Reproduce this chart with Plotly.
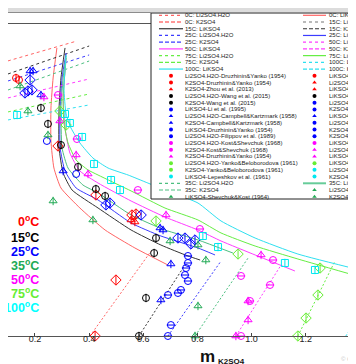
import plotly.graph_objects as go

# ---------------- axis ----------------
X_TICKS = [0.2, 0.4, 0.6, 0.8, 1.0, 1.2, 1.4]
X_TICK_TEXT = ["0.2", "0.4", "0.6", "0.8", "1.0", "1.2", "1.4"]
X_RANGE = [0.1004, 1.4151]
Y_RANGE = [0.0, 3.7]
X_TITLE_MAIN = "m"
X_TITLE_SUB = "K2SO4"
TEMP_LABELS = ["0", "15", "25", "35", "50", "75", "100"]

# ---------------- LiKSO4 saturation curves (solid) ----------------
LIKSO4_0C_X = [0.281, 0.267, 0.259, 0.259, 0.270, 0.296, 0.366, 0.459, 0.569, 0.691]
LIKSO4_0C_Y = [3.416, 3.060, 2.704, 2.313, 1.992, 1.755, 1.518, 1.257, 1.044, 0.842]
LIKSO4_15C_X = [0.311, 0.296, 0.289, 0.289, 0.304, 0.337, 0.433, 0.555, 0.665, 0.765, 0.810]
LIKSO4_15C_Y = [3.416, 3.060, 2.704, 2.230, 1.933, 1.731, 1.518, 1.257, 1.079, 0.949, 0.901]
LIKSO4_25C_X = [0.315, 0.300, 0.293, 0.293, 0.311, 0.352, 0.433, 0.555, 0.665, 0.802, 0.865]
LIKSO4_25C_Y = [3.356, 3.060, 2.704, 2.230, 1.957, 1.755, 1.613, 1.340, 1.186, 1.044, 0.961]
LIKSO4_35C_X = [0.315, 0.304, 0.296, 0.300, 0.322, 0.377, 0.433, 0.555, 0.680, 0.802, 0.931]
LIKSO4_35C_Y = [3.321, 3.060, 2.704, 2.230, 1.992, 1.791, 1.696, 1.435, 1.257, 1.139, 0.984]
LIKSO4_50C_X = [0.315, 0.304, 0.311, 0.329, 0.366, 0.433, 0.555, 0.680, 0.802, 0.887, 1.013, 1.160]
LIKSO4_50C_Y = [3.297, 2.823, 2.467, 2.170, 1.957, 1.814, 1.601, 1.411, 1.257, 1.127, 0.961, 0.771]
LIKSO4_75C_X = [0.315, 0.304, 0.307, 0.322, 0.352, 0.396, 0.433, 0.555, 0.680, 0.802, 0.887, 1.013, 1.171, 1.415]
LIKSO4_75C_Y = [3.297, 2.823, 2.526, 2.289, 2.087, 1.969, 1.909, 1.720, 1.518, 1.376, 1.222, 1.067, 0.913, 0.688]
LIKSO4_100C_X = [0.315, 0.307, 0.315, 0.333, 0.366, 0.414, 0.470, 0.544, 0.617, 0.710, 0.802, 0.887, 1.013, 1.171, 1.415]
LIKSO4_100C_Y = [3.333, 2.941, 2.633, 2.467, 2.289, 2.111, 1.992, 1.909, 1.814, 1.696, 1.577, 1.364, 1.162, 0.972, 0.771]

# ---------------- Li2SO4.H2O branches (dotted) ----------------
LI2SO4_X = [0.100, 0.400]
LI2SO4_0C_Y = [3.262, 3.540]
LI2SO4_15C_Y = [3.107, 3.439]
LI2SO4_25C_Y = [3.024, 3.333]
LI2SO4_35C_Y = [2.917, 3.261]
LI2SO4_50C_Y = [2.823, 3.048]
LI2SO4_75C_Y = [2.657, 2.870]
LI2SO4_100C_Y = [2.562, 2.740]

# ---------------- K2SO4 branches (dashed) ----------------
K2SO4_0C_X = [0.403, 0.629]
K2SO4_0C_Y = [0.0, 1.008]
K2SO4_15C_X = [0.584, 0.754]
K2SO4_15C_Y = [0.0, 0.842]
K2SO4_25C_X = [0.691, 0.887]
K2SO4_25C_Y = [0.0, 0.889]
K2SO4_35C_X = [0.791, 0.987]
K2SO4_35C_Y = [0.0, 0.925]
K2SO4_50C_X = [0.942, 1.109]
K2SO4_50C_Y = [0.0, 0.842]
K2SO4_75C_X = [1.171, 1.308]
K2SO4_75C_Y = [0.0, 0.889]
K2SO4_100C_X = [1.348, 1.511]
K2SO4_100C_Y = [0.0, 0.806]

# ---------------- experimental points ----------------
EXP_0C_CIRC_X = [0.130, 0.141]
EXP_0C_CIRC_Y = [3.060, 3.036]
EXP_0C_DIAM_X = [0.285, 0.425, 0.499, 0.422, 0.558, 0.573]
EXP_0C_DIAM_Y = [2.253, 1.672, 0.664, 0.0, 1.435, 1.447]
EXP_0C_TRI_X = [0.555, 0.569]
EXP_0C_TRI_Y = [1.376, 1.352]

EXP_15C_CIRC_X = [0.222, 0.248, 0.296, 0.359, 0.425, 0.459, 0.647, 0.640, 0.610, 0.584]
EXP_15C_CIRC_Y = [2.704, 2.515, 2.265, 2.005, 1.743, 1.660, 1.162, 0.984, 0.451, 0.0]

EXP_25C_TRI_X = [0.182, 0.193, 0.222, 0.304, 0.662, 0.673, 0.702, 0.665]
EXP_25C_TRI_Y = [3.143, 3.143, 2.858, 1.957, 1.281, 1.257, 0.854, 0.427]
EXP_25C_DIAM_X = [0.163, 0.174, 0.189, 0.182, 0.462, 0.477, 0.592, 0.728, 0.754, 0.791, 0.776]
EXP_25C_DIAM_Y = [2.882, 2.906, 2.918, 3.036, 1.554, 1.577, 1.435, 1.162, 1.162, 1.139, 1.091]
EXP_25C_OVAL_X = [0.765, 0.765, 0.758, 0.765, 0.754, 0.691, 0.728, 0.739, 0.702, 0.691]
EXP_25C_OVAL_Y = [0.949, 0.866, 0.806, 0.652, 0.723, 0.486, 0.510, 0.546, 0.130, 0.0]
EXP_25C_OPEN_X = [0.244, 0.352]
EXP_25C_OPEN_Y = [2.313, 1.921]

EXP_35C_TRI_X = [0.145, 0.174, 0.248, 0.267, 0.414, 0.699, 0.802, 0.831, 0.802, 0.791]
EXP_35C_TRI_Y = [2.965, 2.668, 2.384, 1.601, 1.376, 1.127, 1.079, 0.901, 0.356, 0.0]

EXP_50C_CIRC_X = [0.285, 0.355, 0.580, 0.809, 1.079, 0.961, 1.068, 0.994, 0.961]
EXP_50C_CIRC_Y = [2.858, 2.336, 1.731, 1.269, 0.901, 0.712, 0.605, 0.415, 0.0]
EXP_50C_TRI_X = [0.233, 0.100, 0.292, 0.352, 0.396, 0.684, 1.035, 0.987, 0.987, 0.942]
EXP_50C_TRI_Y = [2.834, 2.799, 2.550, 2.147, 1.921, 1.435, 0.961, 0.415, 0.190, 0.0]

EXP_75C_DIAM_X = [0.292, 0.315, 0.647, 0.950, 1.253, 1.245, 1.201, 1.171]
EXP_75C_DIAM_Y = [2.668, 2.502, 1.364, 0.972, 0.806, 0.486, 0.213, 0.0]

EXP_100C_SQ_X = [0.134, 0.311, 0.329, 0.374, 0.418, 0.481, 0.514, 0.820, 0.876, 1.123, 1.234, 1.400]
EXP_100C_SQ_Y = [2.621, 2.633, 2.526, 2.360, 2.040, 1.850, 1.731, 1.186, 1.055, 0.866, 0.783, 0.0]

# ---------------- legend text ----------------
LEGEND_COL1 = [
    "0C: Li2SO4.H2O", "0C: K2SO4", "15C: LiKSO4", "25C: Li2SO4.H2O", "25C: K2SO4",
    "50C: LiKSO4", "75C: Li2SO4.H2O", "75C: K2SO4", "100C: LiKSO4",
    "Li2SO4.H2O-Druzhinin&Yanko (1954)", "K2SO4-Druzhinin&Yanko (1954)",
    "K2SO4-Zhou et al. (2013)", "Li2SO4.H2O-Wang et al. (2015)", "K2SO4-Wang et al. (2015)",
    "LiKSO4-Li et al. (1995)", "Li2SO4.H2O-Campbell&Kartzmark (1958)",
    "K2SO4-Campbell&Kartzmark (1958)", "LiKSO4-Druzhinin&Yanko (1954)",
    "Li2SO4.H2O-Filippov et al. (1989)", "Li2SO4.H2O-Kost&Shevchuk (1968)",
    "K2SO4-Kost&Shevchuk (1968)", "K2SO4-Druzhinin&Yanko (1954)",
    "Li2SO4.H2O-Yanko&Beloborodova (1961)", "K2SO4-Yanko&Beloborodova (1961)",
    "LiKSO4-Lepeshkov et al. (1961)", "35C: Li2SO4.H2O", "35C: K2SO4",
    "LiKSO4-Shevchuk&Kost (1964)",
]
LEGEND_COL2 = [
    "0C: LiKSO4", "15C: Li2SO4.H2O", "15C: K2SO4", "25C: LiKSO4", "50C: Li2SO4.H2O",
    "50C: K2SO4", "75C: LiKSO4", "100C: Li2SO4.H2O", "100C: K2SO4",
    "LiKSO4-Druzhinin&Yanko (1954)", "Li2SO4.H2O-Zhou et al. (2013)", "LiKSO4-Zhou et al. (2013)",
    "LiKSO4-Wang et al. (2015)", "Li2SO4.H2O-Li et al. (1995)", "K2SO4-Li et al. (1995)",
    "LiKSO4-Campbell&Kartzmark (1958)", "Li2SO4.H2O-Druzhinin&Yanko (1954)",
    "K2SO4-Druzhinin&Yanko (1954)", "K2SO4-Filippov et al. (1989)",
    "LiKSO4-Kost&Shevchuk (1968)", "Li2SO4.H2O-Druzhinin&Yanko (1954)",
    "LiKSO4-Druzhinin&Yanko (1954)", "LiKSO4-Yanko&Beloborodova (1961)",
    "Li2SO4.H2O-Lepeshkov et al. (1961)", "K2SO4-Lepeshkov et al. (1961)",
    "35C: LiKSO4", "Li2SO4.H2O-Shevchuk&Kost (1964)", "K2SO4-Shevchuk&Kost (1964)",
]

# ---------------- styles ----------------
C_MARK = ["#ff0000", "#000000", "#0000ff", "#22aa55", "#ff00ff", "#66ee33", "#00e8f0"]
C_LINE = ["#ff6464", "#333333", "#3c3cff", "#4cbf80", "#ff3cff", "#66ee44", "#2ee0f0"]
C_LABEL = ["#ff0000", "#000000", "#0000ff", "#22aa55", "#ff00ff", "#66ee33", "#00ffff"]
FONT = "Arial, Liberation Sans, sans-serif"

W, H = 356, 364
fig = go.Figure()


def add_line(x, y, color, dash="solid", width=1.0, spline=True):
    fig.add_trace(go.Scatter(
        x=x, y=y, mode="lines", hoverinfo="skip", showlegend=False,
        line=dict(color=color, width=width, dash=dash,
                  shape="spline" if spline else "linear", smoothing=0.5)))


def add_points(x, y, color, symbol, size, bar="line-ns-open"):
    fig.add_trace(go.Scatter(
        x=x, y=y, mode="markers", cliponaxis=False, hoverinfo="skip", showlegend=False,
        marker=dict(symbol=symbol, size=size, color=color, line=dict(color=color, width=1))))
    if bar:
        fig.add_trace(go.Scatter(
            x=x, y=y, mode="markers", cliponaxis=False, hoverinfo="skip", showlegend=False,
            marker=dict(symbol=bar, size=size - 1, color=color, line=dict(color=color, width=1))))


likso4 = [(LIKSO4_0C_X, LIKSO4_0C_Y), (LIKSO4_15C_X, LIKSO4_15C_Y), (LIKSO4_25C_X, LIKSO4_25C_Y),
          (LIKSO4_35C_X, LIKSO4_35C_Y), (LIKSO4_50C_X, LIKSO4_50C_Y), (LIKSO4_75C_X, LIKSO4_75C_Y),
          (LIKSO4_100C_X, LIKSO4_100C_Y)]
li2so4 = [LI2SO4_0C_Y, LI2SO4_15C_Y, LI2SO4_25C_Y, LI2SO4_35C_Y, LI2SO4_50C_Y, LI2SO4_75C_Y, LI2SO4_100C_Y]
li2so4_end = [0.352, 0.400, 0.400, 0.400, 0.400, 0.400, 0.400]
k2so4 = [(K2SO4_0C_X, K2SO4_0C_Y), (K2SO4_15C_X, K2SO4_15C_Y), (K2SO4_25C_X, K2SO4_25C_Y),
         (K2SO4_35C_X, K2SO4_35C_Y), (K2SO4_50C_X, K2SO4_50C_Y), (K2SO4_75C_X, K2SO4_75C_Y),
         (K2SO4_100C_X, K2SO4_100C_Y)]

for i in range(7):
    ys = li2so4[i]
    xe = li2so4_end[i]
    slope = (ys[1] - ys[0]) / (LI2SO4_X[1] - LI2SO4_X[0])
    add_line([LI2SO4_X[0], xe], [ys[0], ys[0] + slope * (xe - LI2SO4_X[0])], C_LINE[i], "dot", 1.0, False)
    add_line(k2so4[i][0], k2so4[i][1], C_LINE[i], "2px,2px", 1.0, False)
    add_line(likso4[i][0], likso4[i][1], C_LINE[i], "solid", 1.0, True)

add_points(EXP_0C_CIRC_X, EXP_0C_CIRC_Y, C_MARK[0], "circle-open", 7)
add_points(EXP_0C_DIAM_X, EXP_0C_DIAM_Y, C_MARK[0], "diamond-open", 8)
add_points(EXP_0C_TRI_X, EXP_0C_TRI_Y, C_MARK[0], "triangle-up-open", 7)
add_points(EXP_15C_CIRC_X, EXP_15C_CIRC_Y, C_MARK[1], "circle-open", 7)
add_points(EXP_25C_TRI_X, EXP_25C_TRI_Y, C_MARK[2], "triangle-up-open", 7)
add_points(EXP_25C_DIAM_X, EXP_25C_DIAM_Y, C_MARK[2], "diamond-open", 8)
add_points(EXP_25C_OVAL_X, EXP_25C_OVAL_Y, C_MARK[2], "circle-open", 7, "line-ew-open")
add_points(EXP_25C_OPEN_X, EXP_25C_OPEN_Y, C_MARK[2], "circle-open", 7, None)
add_points(EXP_35C_TRI_X, EXP_35C_TRI_Y, C_MARK[3], "triangle-up-open", 7)
add_points(EXP_50C_CIRC_X, EXP_50C_CIRC_Y, C_MARK[4], "circle-open", 7, "line-ew-open")
add_points(EXP_50C_TRI_X, EXP_50C_TRI_Y, C_MARK[4], "triangle-up-open", 7)
add_points(EXP_75C_DIAM_X, EXP_75C_DIAM_Y, C_MARK[5], "diamond-open", 8)
add_points(EXP_100C_SQ_X, EXP_100C_SQ_Y, C_MARK[6], "square-open", 7)

# ---------------- legend (pixel-coordinate overlay axes x2/y2) ----------------
LEG_L, LEG_T, LEG_B = 143, 5, 191
ROW0, ROW_H = 7.3, 6.72

fig.add_trace(go.Scatter(
    x=[LEG_L, W + 5, W + 5, LEG_L, LEG_L], y=[LEG_T, LEG_T, LEG_B, LEG_B, LEG_T],
    xaxis="x2", yaxis="y2", mode="lines", fill="toself", fillcolor="white",
    line=dict(color="#222", width=1), hoverinfo="skip", showlegend=False))

COL1_STY = [("l", C_LINE[0], "dot"), ("l", "#ff3030", "4px,2px"), ("l", C_LINE[1], "solid"),
            ("l", C_LINE[2], "dot"), ("l", C_LINE[2], "4px,2px"), ("l", C_LINE[4], "solid"),
            ("l", C_LINE[5], "dot"), ("l", C_LINE[5], "4px,2px"), ("l", C_LINE[6], "solid"),
            ("m", C_MARK[0], "circle"), ("m", C_MARK[0], "circle"), ("m", C_MARK[0], "triangle-up"),
            ("m", C_MARK[1], "circle"), ("m", C_MARK[1], "circle"), ("m", C_MARK[2], "circle"),
            ("m", C_MARK[2], "triangle-up"), ("m", C_MARK[2], "triangle-up"), ("m", C_MARK[2], "circle"),
            ("m", C_MARK[2], "circle"), ("m", C_MARK[4], "circle"), ("m", C_MARK[4], "circle"),
            ("m", C_MARK[4], "triangle-up"), ("m", C_MARK[5], "circle"), ("m", C_MARK[5], "circle"),
            ("m", C_MARK[6], "circle"), ("l", C_LINE[3], "dot"), ("l", C_LINE[3], "4px,2px"),
            ("m", C_MARK[3], "triangle-up")]
COL2_STY = [("l", C_LINE[0], "solid"), ("l", "#777777", "dot"), ("l", C_LINE[1], "4px,2px"),
            ("l", C_LINE[2], "solid"), ("l", C_LINE[4], "dot"), ("l", C_LINE[4], "4px,2px"),
            ("l", C_LINE[5], "solid"), ("l", C_LINE[6], "dot"), ("l", C_LINE[6], "4px,2px"),
            ("m", C_MARK[0], "circle"), ("m", C_MARK[0], "triangle-up"), ("m", C_MARK[0], "triangle-up"),
            ("m", C_MARK[1], "circle"), ("m", C_MARK[2], "circle"), ("m", C_MARK[2], "circle"),
            ("m", C_MARK[2], "triangle-up"), ("m", C_MARK[2], "circle"), ("m", C_MARK[2], "circle"),
            ("m", C_MARK[2], "circle"), ("m", C_MARK[4], "circle"), ("m", C_MARK[4], "triangle-up"),
            ("m", C_MARK[4], "triangle-up"), ("m", C_MARK[5], "circle"), ("m", C_MARK[6], "circle"),
            ("m", C_MARK[6], "circle"), ("l", "#66cc99", "solid"), ("m", C_MARK[3], "triangle-up"),
            ("m", C_MARK[3], "triangle-up")]

annotations = []
for (labels, styles, x0, x1, xt) in [(LEGEND_COL1, COL1_STY, 151, 175, 176),
                                     (LEGEND_COL2, COL2_STY, 295, 318, 320)]:
    for i, (lab, (kind, col, sty)) in enumerate(zip(labels, styles)):
        yr = ROW0 + i * ROW_H
        if kind == "l":
            fig.add_trace(go.Scatter(
                x=[x0, x1], y=[yr, yr], xaxis="x2", yaxis="y2", mode="lines",
                line=dict(color=col, width=2 if col == "#66cc99" else 1.2, dash=sty),
                hoverinfo="skip", showlegend=False))
        else:
            fig.add_trace(go.Scatter(
                x=[(x0 + x1) / 2], y=[yr], xaxis="x2", yaxis="y2", mode="markers",
                marker=dict(symbol=sty, size=4, color=col, line=dict(width=0)),
                hoverinfo="skip", showlegend=False))
        annotations.append(dict(
            x=xt, y=yr, xref="x2", yref="y2", text=lab, showarrow=False,
            xanchor="left", yanchor="middle", borderpad=0,
            font=dict(size=6, color="#222", family=FONT)))

TEMP_Y = [213, 228.5, 243, 257, 271, 285, 298.5]
for i, t in enumerate(TEMP_LABELS):
    annotations.append(dict(
        x=33, y=TEMP_Y[i], xref="x2", yref="y2", showarrow=False,
        text="<b>%s<sup>o</sup>C</b>" % t, xanchor="right", yanchor="middle",
        font=dict(size=12.5, color=C_LABEL[i], family=FONT)))

annotations.append(dict(x=209, y=348.5, xref="x2", yref="y2", showarrow=False,
                        text="<b>%s</b>" % X_TITLE_MAIN, xanchor="right", yanchor="middle",
                        font=dict(size=17, color="#111", family=FONT)))
annotations.append(dict(x=208, y=353, xref="x2", yref="y2", showarrow=False,
                        text="<b>%s</b>" % X_TITLE_SUB, xanchor="left", yanchor="middle",
                        font=dict(size=8, color="#111", family=FONT)))
annotations.append(dict(x=331, y=351, xref="x2", yref="y2", showarrow=False,
                        text="\u00a9 Copyright", xanchor="left", yanchor="middle",
                        font=dict(size=6, color="#c8c8c8", family=FONT)))

shapes = [
    dict(type="rect", xref="paper", yref="paper", x0=0, x1=1, y0=1 - 4 / H, y1=1,
         fillcolor="#dcdcdc", line=dict(width=0), layer="above"),
    dict(type="line", xref="paper", yref="paper", x0=0, x1=1, y0=1 - 4.5 / H, y1=1 - 4.5 / H,
         line=dict(color="#8c8c8c", width=1.2), layer="above"),
    dict(type="line", xref="paper", yref="paper", x0=0, x1=1, y0=1 - 358.5 / H, y1=1 - 358.5 / H,
         line=dict(color="#111", width=2.5), layer="above"),
]

fig.update_layout(
    width=W, height=H, margin=dict(l=0, r=0, t=0, b=0),
    paper_bgcolor="white", plot_bgcolor="rgba(0,0,0,0)", showlegend=False,
    font=dict(family=FONT, color="#222"),
    xaxis=dict(domain=[0, 1], range=X_RANGE, anchor="y", tickvals=X_TICKS, ticktext=X_TICK_TEXT,
               ticks="inside", ticklen=3, tickcolor="#444", showline=True, linecolor="#555",
               linewidth=1, mirror=True, showgrid=False, zeroline=False, ticklabelstandoff=-6,
               tickfont=dict(size=9, color="#222", family=FONT)),
    yaxis=dict(domain=[36 / H, 348 / H], range=Y_RANGE, anchor="x", visible=False),
    xaxis2=dict(domain=[0, 1], range=[0, W], anchor="y2", visible=False),
    yaxis2=dict(domain=[0, 1], range=[H, 0], anchor="x2", visible=False),
    annotations=annotations, shapes=shapes,
)

fig.write_html("out.html")
